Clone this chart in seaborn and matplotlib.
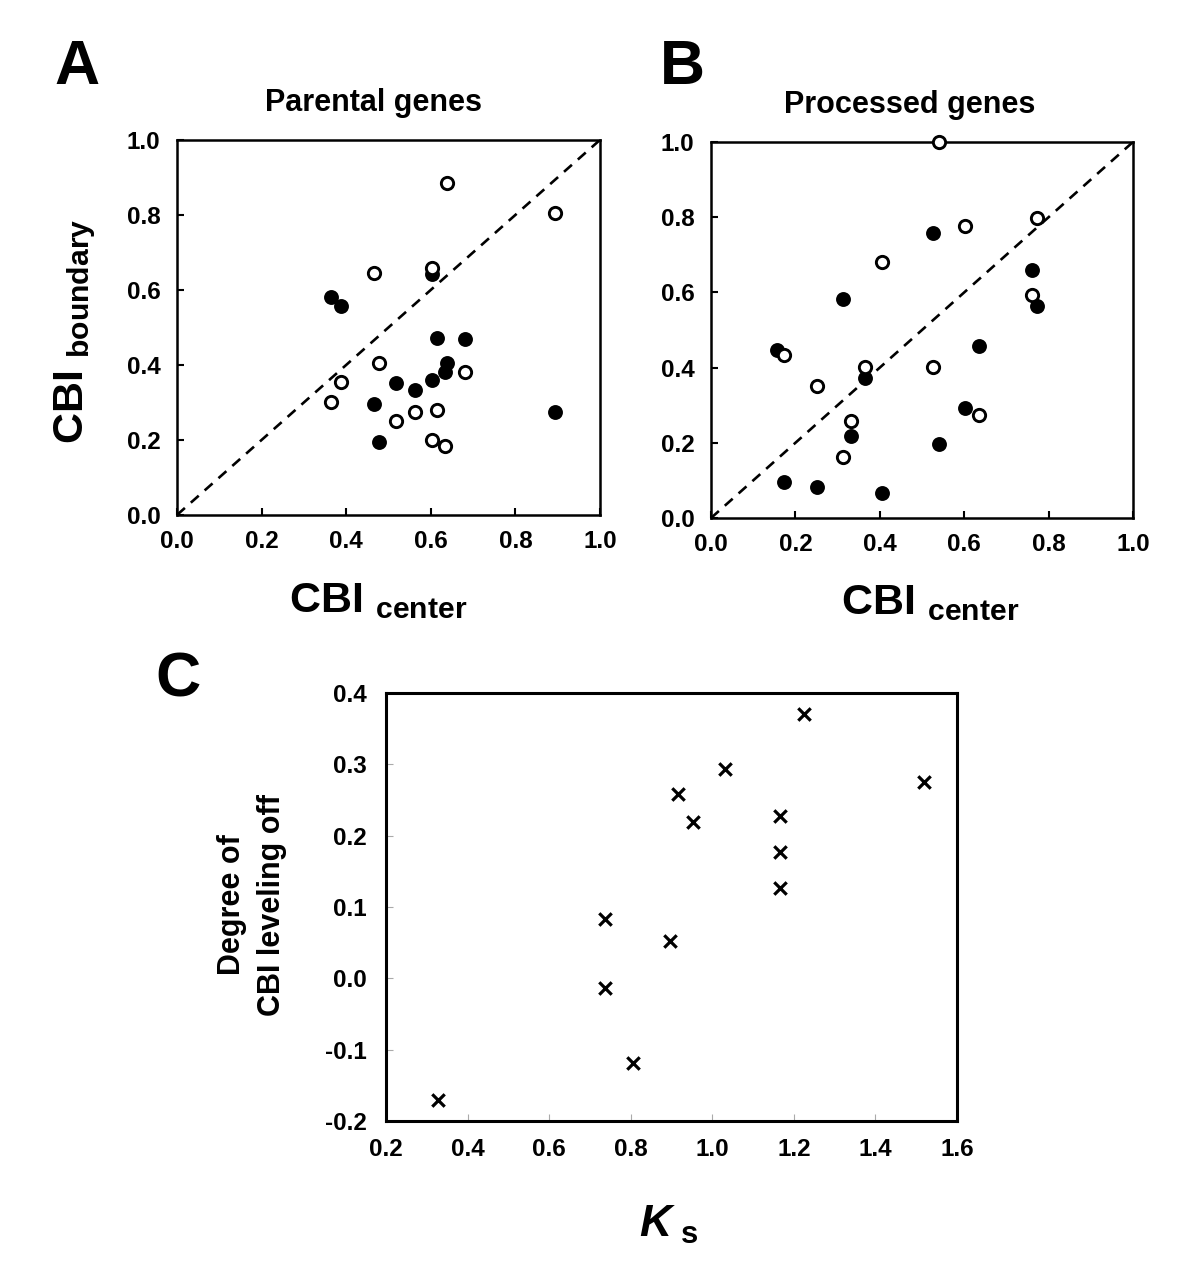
import matplotlib
matplotlib.use("Agg")
import matplotlib.pyplot as plt
import seaborn as sns
from matplotlib.ticker import FormatStrFormatter, MultipleLocator

# Panel A: parental genes (CBI center vs CBI boundary)
parental_open_center = [0.639, 0.894, 0.465, 0.602, 0.478, 0.388, 0.365, 0.681, 0.563, 0.615, 0.517, 0.602, 0.634]
parental_open_boundary = [0.884, 0.804, 0.644, 0.658, 0.406, 0.354, 0.302, 0.382, 0.275, 0.280, 0.251, 0.200, 0.184]
parental_filled_center = [0.365, 0.388, 0.602, 0.615, 0.681, 0.639, 0.634, 0.602, 0.517, 0.563, 0.465, 0.478, 0.894]
parental_filled_boundary = [0.582, 0.558, 0.643, 0.473, 0.468, 0.406, 0.382, 0.360, 0.353, 0.332, 0.297, 0.195, 0.275]

# Panel B: processed genes
processed_open_center = [0.540, 0.772, 0.602, 0.406, 0.761, 0.172, 0.364, 0.526, 0.250, 0.635, 0.332, 0.313]
processed_open_boundary = [1.000, 0.798, 0.776, 0.681, 0.594, 0.434, 0.401, 0.401, 0.350, 0.275, 0.258, 0.162]
processed_filled_center = [0.526, 0.761, 0.772, 0.313, 0.156, 0.635, 0.364, 0.602, 0.332, 0.540, 0.172, 0.250, 0.406]
processed_filled_boundary = [0.757, 0.660, 0.565, 0.582, 0.446, 0.457, 0.371, 0.293, 0.219, 0.196, 0.095, 0.082, 0.066]

# Panel C: Ks vs degree of CBI leveling off
ks_values = [0.328, 0.737, 0.737, 0.805, 0.897, 0.917, 0.953, 1.032, 1.165, 1.165, 1.165, 1.226, 1.519]
leveling_off = [-0.170, 0.083, -0.013, -0.119, 0.052, 0.258, 0.219, 0.293, 0.227, 0.177, 0.126, 0.371, 0.275]

FONT = ["Liberation Sans", "Arial", "DejaVu Sans"]


def style_box(ax, lw, tick_w, tick_col):
    for sp in ax.spines.values():
        sp.set_visible(True)
        sp.set_linewidth(lw)
        sp.set_color("black")
    ax.tick_params(direction="in", length=5, width=tick_w, color=tick_col,
                   labelsize=17.5, labelcolor="black",
                   bottom=True, left=True, top=False, right=False)
    ax.tick_params(axis="x", pad=11)
    ax.tick_params(axis="y", pad=12)
    for lab in ax.get_xticklabels() + ax.get_yticklabels():
        lab.set_fontweight("bold")
    ax.set_xlabel("")
    ax.set_ylabel("")


def cbi_panel(ax, open_x, open_y, filled_x, filled_y):
    ax.axline((0, 0), slope=1, color="black", lw=1.9, ls=(0, (4, 3)), zorder=1)
    sns.scatterplot(x=filled_x, y=filled_y, ax=ax, s=115, color="black",
                    edgecolor="black", linewidth=0, zorder=3, clip_on=False)
    sns.scatterplot(x=open_x, y=open_y, ax=ax, s=78, color="black",
                    facecolor="white", edgecolor="black", linewidth=2.1,
                    zorder=4, clip_on=False)
    ax.set_xlim(0, 1)
    ax.set_ylim(0, 1)
    ax.xaxis.set_major_locator(MultipleLocator(0.2))
    ax.yaxis.set_major_locator(MultipleLocator(0.2))
    ax.xaxis.set_major_formatter(FormatStrFormatter("%.1f"))
    ax.yaxis.set_major_formatter(FormatStrFormatter("%.1f"))
    style_box(ax, 1.8, 1.5, "black")


def main():
    sns.set_theme(style="white")
    plt.rcParams["font.family"] = FONT
    plt.rcParams["font.weight"] = "bold"
    plt.rcParams["text.color"] = "black"
    plt.rcParams["axes.labelcolor"] = "black"
    plt.rcParams["axes.unicode_minus"] = False
    plt.rcParams["mathtext.fontset"] = "custom"
    plt.rcParams["mathtext.rm"] = "Liberation Sans:bold"
    plt.rcParams["mathtext.it"] = "Liberation Sans:bold:italic"
    plt.rcParams["mathtext.bf"] = "Liberation Sans:bold"

    fig = plt.figure(figsize=(12, 12.8), dpi=100)
    ax_a = fig.add_axes([0.1475, 0.5977, 0.3525, 0.293])
    ax_b = fig.add_axes([0.5925, 0.5953, 0.3517, 0.2938])
    ax_c = fig.add_axes([0.3217, 0.1242, 0.4758, 0.3344])

    cbi_panel(ax_a, parental_open_center, parental_open_boundary,
              parental_filled_center, parental_filled_boundary)
    cbi_panel(ax_b, processed_open_center, processed_open_boundary,
              processed_filled_center, processed_filled_boundary)

    sns.scatterplot(x=ks_values, y=leveling_off, ax=ax_c, marker="x", s=80,
                    color="black", linewidth=2.3)
    ax_c.set_xlim(0.2, 1.6)
    ax_c.set_ylim(-0.2, 0.4)
    ax_c.xaxis.set_major_locator(MultipleLocator(0.2))
    ax_c.yaxis.set_major_locator(MultipleLocator(0.1))
    ax_c.xaxis.set_major_formatter(FormatStrFormatter("%.1f"))
    ax_c.yaxis.set_major_formatter(FormatStrFormatter("%.1f"))
    style_box(ax_c, 2.2, 0.8, "#aaaaaa")
    ax_c.tick_params(axis="y", pad=14)
    ax_c.tick_params(axis="x", pad=12)

    # panel letters
    for x, y, s in [(0.064, 0.947, "A"), (0.569, 0.947, "B"), (0.148, 0.469, "C")]:
        fig.text(x, y, s, fontsize=45, fontweight="bold", ha="center", va="center")

    fig.text(0.311, 0.9195, "Parental genes", fontsize=22, fontweight="bold",
             ha="center", va="center")
    fig.text(0.758, 0.918, "Processed genes", fontsize=22, fontweight="bold",
             ha="center", va="center")

    fig.text(0.315, 0.522, r"CBI $_{\mathrm{center}}$", fontsize=31,
             fontweight="bold", ha="center", va="baseline")
    fig.text(0.775, 0.520, r"CBI $_{\mathrm{center}}$", fontsize=31,
             fontweight="bold", ha="center", va="baseline")
    fig.text(0.0625, 0.741, r"CBI $_{\mathrm{boundary}}$", fontsize=31,
             fontweight="bold", ha="center", va="center", rotation=90)

    fig.text(0.21, 0.293, "Degree of\nCBI leveling off", fontsize=22,
             fontweight="bold", ha="center", va="center", rotation=90,
             linespacing=1.4, multialignment="center")
    fig.text(0.557, 0.0336, r"$\mathit{K}_{\ \mathrm{s}}$", fontsize=32,
             ha="center", va="baseline")

    fig.savefig("out.png", dpi=100)


if __name__ == "__main__":
    main()
